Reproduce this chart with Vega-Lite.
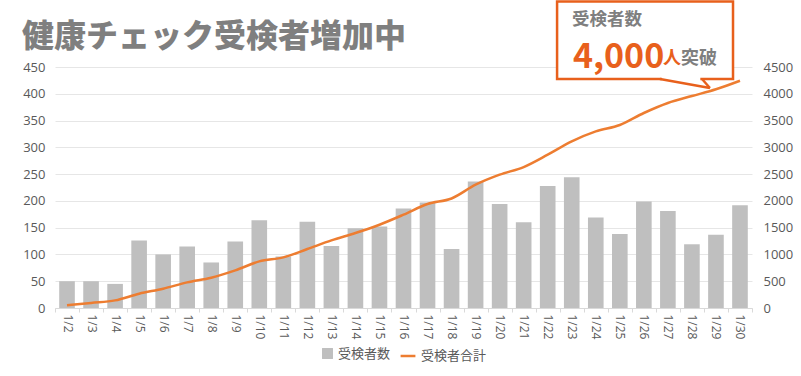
{
  "$schema": "https://vega.github.io/schema/vega-lite/v6.json",
  "width": 697,
  "height": 241,
  "autosize": "none",
  "padding": {"left": 55, "top": 67, "right": 49, "bottom": 68},
  "background": "white",
  "datasets": {
    "daily": [
      {"day": "1/2", "count": 50, "total": 50},
      {"day": "1/3", "count": 50, "total": 95},
      {"day": "1/4", "count": 45, "total": 142},
      {"day": "1/5", "count": 126, "total": 267},
      {"day": "1/6", "count": 100, "total": 360},
      {"day": "1/7", "count": 115, "total": 478},
      {"day": "1/8", "count": 85, "total": 566},
      {"day": "1/9", "count": 124, "total": 702},
      {"day": "1/10", "count": 164, "total": 870},
      {"day": "1/11", "count": 96, "total": 945},
      {"day": "1/12", "count": 161, "total": 1101},
      {"day": "1/13", "count": 116, "total": 1262},
      {"day": "1/14", "count": 149, "total": 1400},
      {"day": "1/15", "count": 152, "total": 1555},
      {"day": "1/16", "count": 186, "total": 1742},
      {"day": "1/17", "count": 197, "total": 1942},
      {"day": "1/18", "count": 110, "total": 2045},
      {"day": "1/19", "count": 236, "total": 2302},
      {"day": "1/20", "count": 194, "total": 2489},
      {"day": "1/21", "count": 160, "total": 2632},
      {"day": "1/22", "count": 228, "total": 2862},
      {"day": "1/23", "count": 244, "total": 3111},
      {"day": "1/24", "count": 169, "total": 3297},
      {"day": "1/25", "count": 138, "total": 3417},
      {"day": "1/26", "count": 199, "total": 3641},
      {"day": "1/27", "count": 181, "total": 3828},
      {"day": "1/28", "count": 119, "total": 3958},
      {"day": "1/29", "count": 137, "total": 4084},
      {"day": "1/30", "count": 192, "total": 4244}
    ]
  },
  "data": {"name": "daily"},
  "layer": [
    {
      "mark": {"type": "bar", "width": {"band": 0.65}},
      "encoding": {
        "x": {
          "field": "day", "type": "nominal", "sort": null,
          "scale": {"paddingInner": 0, "paddingOuter": 0},
          "axis": {
            "title": null, "labelAngle": 90, "tickBand": "extent", "tickSize": 4,
            "tickColor": "#d9d9d9", "domainColor": "#d9d9d9", "labelPadding": 2,
            "labelFontSize": 12, "labelColor": "#595959", "labelFont": "Open Sans"
          }
        },
        "y": {
          "field": "count", "type": "quantitative",
          "scale": {"domain": [0, 450], "nice": false},
          "axis": {
            "orient": "left", "title": null,
            "values": [0, 50, 100, 150, 200, 250, 300, 350, 400, 450],
            "grid": true, "gridColor": "#e6e6e6", "domain": false, "ticks": false,
            "labelPadding": 10, "labelFontSize": 13, "labelColor": "#595959", "labelFont": "Open Sans"
          }
        },
        "fill": {
          "datum": "受検者数",
          "scale": {"range": ["#bfbfbf"]},
          "legend": {"title": null, "symbolType": "square", "symbolSize": 120}
        }
      }
    },
    {
      "mark": {"type": "line", "strokeWidth": 2.5, "interpolate": "monotone"},
      "encoding": {
        "x": {
          "field": "day", "type": "nominal", "sort": null,
          "scale": {"paddingInner": 0, "paddingOuter": 0},
          "axis": null
        },
        "y": {
          "field": "total", "type": "quantitative",
          "scale": {"domain": [0, 4500], "nice": false},
          "axis": {
            "orient": "right", "title": null, "format": "d",
            "values": [0, 500, 1000, 1500, 2000, 2500, 3000, 3500, 4000, 4500],
            "grid": false, "domain": false, "ticks": false,
            "labelPadding": 11, "labelFontSize": 13, "labelColor": "#595959", "labelFont": "Open Sans"
          }
        },
        "stroke": {
          "datum": "受検者合計",
          "scale": {"range": ["#ed7d31"]},
          "legend": {"title": null, "symbolType": "stroke", "symbolSize": 220, "symbolStrokeWidth": 2.5}
        }
      }
    },
    {
      "data": {"values": [{}]},
      "encoding": {},
      "layer": [
        {
          "mark": {"type": "text", "text": "健康チェック受検者増加中", "align": "left", "baseline": "alphabetic", "fontSize": 32, "fontWeight": 900, "font": "Noto Sans CJK JP", "color": "#7f7f7f"},
          "encoding": {
            "x": {"datum": -1.373, "type": "quantitative", "scale": {"domain": [0, 29], "nice": false, "zero": false}, "axis": null},
            "y": {"datum": 4873, "type": "quantitative", "scale": {"domain": [0, 4500], "nice": false}, "axis": null}
          }
        },
        {
          "mark": {"type": "rect", "fill": "white", "stroke": "#e8601c", "strokeWidth": 2.5},
          "encoding": {
            "x": {"datum": 20.89, "type": "quantitative"},
            "x2": {"datum": 28.21},
            "y": {"datum": 5723, "type": "quantitative"},
            "y2": {"datum": 4276}
          }
        },
        {
          "mark": {"type": "rule", "stroke": "white", "strokeWidth": 4},
          "encoding": {
            "x": {"datum": 25.25, "type": "quantitative"},
            "x2": {"datum": 26.85},
            "y": {"datum": 4276, "type": "quantitative"}
          }
        },
        {
          "mark": {"type": "rule", "stroke": "#e8601c", "strokeWidth": 2.5},
          "encoding": {
            "x": {"datum": 25.17, "type": "quantitative"},
            "x2": {"datum": 27.25},
            "y": {"datum": 4276, "type": "quantitative"},
            "y2": {"datum": 4108}
          }
        },
        {
          "mark": {"type": "rule", "stroke": "#e8601c", "strokeWidth": 2.5},
          "encoding": {
            "x": {"datum": 27.25, "type": "quantitative"},
            "x2": {"datum": 26.92},
            "y": {"datum": 4108, "type": "quantitative"},
            "y2": {"datum": 4276}
          }
        },
        {
          "mark": {"type": "text", "text": "受検者数", "align": "left", "baseline": "alphabetic", "fontSize": 17.5, "fontWeight": "bold", "font": "Noto Sans CJK JP", "color": "#7f7f7f"},
          "encoding": {
            "x": {"datum": 21.51, "type": "quantitative"},
            "y": {"datum": 5290, "type": "quantitative"}
          }
        },
        {
          "mark": {"type": "text", "text": "4,000", "align": "left", "baseline": "alphabetic", "fontSize": 34, "fontWeight": "bold", "font": "Noto Sans CJK JP", "color": "#e8601c"},
          "encoding": {
            "x": {"datum": 21.55, "type": "quantitative"},
            "y": {"datum": 4490, "type": "quantitative"}
          }
        },
        {
          "mark": {"type": "text", "text": "人", "align": "left", "baseline": "alphabetic", "fontSize": 18, "fontWeight": "bold", "font": "Noto Sans CJK JP", "color": "#e8601c"},
          "encoding": {
            "x": {"datum": 25.3, "type": "quantitative"},
            "y": {"datum": 4560, "type": "quantitative"}
          }
        },
        {
          "mark": {"type": "text", "text": "突破", "align": "left", "baseline": "alphabetic", "fontSize": 18, "fontWeight": "bold", "font": "Noto Sans CJK JP", "color": "#7f7f7f"},
          "encoding": {
            "x": {"datum": 26.05, "type": "quantitative"},
            "y": {"datum": 4560, "type": "quantitative"}
          }
        }
      ]
    }
  ],
  "resolve": {"scale": {"x": "independent", "y": "independent"}},
  "config": {
    "view": {"stroke": null},
    "legend": {
      "orient": "bottom",
      "direction": "horizontal",
      "offset": 8,
      "labelFont": "Noto Sans CJK JP",
      "labelFontSize": 13,
      "labelColor": "#595959",
      "layout": {"bottom": {"anchor": "middle"}}
    }
  }
}
